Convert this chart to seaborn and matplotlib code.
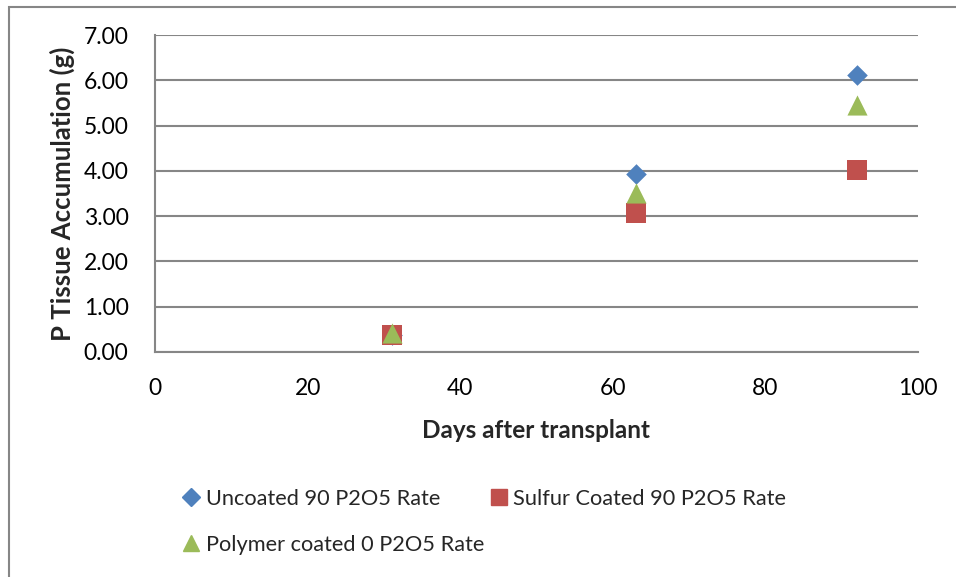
import matplotlib
matplotlib.use("Agg")
import matplotlib.pyplot as plt
from matplotlib.lines import Line2D
from matplotlib.patches import Rectangle
import seaborn as sns
import pandas as pd

# Sampling days and phosphorus tissue accumulation per treatment
days = [31, 63, 92]
uncoated_90 = [0.38, 3.92, 6.12]
sulfur_coated_90 = [0.37, 3.08, 4.02]
polymer_coated_0 = [0.41, 3.52, 5.45]

series_names = ["Uncoated 90 P2O5 Rate", "Sulfur Coated 90 P2O5 Rate",
                "Polymer coated 0 P2O5 Rate"]
series_values = [uncoated_90, sulfur_coated_90, polymer_coated_0]
series_colors = ["#4F81BD", "#C0504D", "#9BBB59"]
series_markers = ["D", "s", "^"]
series_sizes = [110, 200, 210]

y_ticks = [0, 1, 2, 3, 4, 5, 6, 7]
x_ticks = [0, 20, 40, 60, 80, 100]

sns.set_theme(style="white")
plt.rcParams["font.family"] = ["Lato", "DejaVu Sans"]

fig = plt.figure(figsize=(9.56, 5.77), dpi=100)
ax = fig.add_axes([155 / 956, 1 - 352 / 577, (918 - 155) / 956, (352 - 35) / 577])

grid_color = "#868686"

for name, vals, col, mk, sz in zip(series_names, series_values, series_colors,
                                   series_markers, series_sizes):
    df = pd.DataFrame({"day": days, "value": vals})
    sns.scatterplot(data=df, x="day", y="value", ax=ax, color=col, marker=mk,
                    s=sz, linewidth=0, legend=False, zorder=3)

ax.set_xlim(0, 100)
ax.set_ylim(0, 7)
ax.set_xticks(x_ticks)
ax.set_yticks(y_ticks)
ax.set_yticklabels([f"{v:.2f}" for v in y_ticks])
ax.set_xticklabels([str(v) for v in x_ticks])
ax.tick_params(axis="both", length=0, labelsize=16.5, colors="black")
ax.tick_params(axis="y", pad=19)
ax.tick_params(axis="x", pad=19)

ax.yaxis.grid(True, color=grid_color, linewidth=1.5)
ax.xaxis.grid(False)
ax.set_axisbelow(True)
for side in ["top", "right"]:
    ax.spines[side].set_visible(False)
for side in ["left", "bottom"]:
    ax.spines[side].set_color(grid_color)
    ax.spines[side].set_linewidth(1.5)

ax.set_xlabel("Days after transplant", fontsize=17.5, fontweight="bold", labelpad=14)
ax.set_ylabel("P Tissue Accumulation (g)", fontsize=18.5, fontweight="bold", labelpad=6)

# Legend in two rows: Uncoated | Sulfur on the first, Polymer below
handles = [Line2D([], [], linestyle="none", marker=m, color=c, markersize=ms)
           for m, c, ms in zip(series_markers, series_colors, [9, 12, 12])]
order = [0, 2, 1]
fig.legend([handles[i] for i in order], [series_names[i] for i in order],
           ncol=2, loc="upper left", bbox_to_anchor=(163 / 956, 1 - 469 / 577),
           frameon=False, fontsize=15.7, handlelength=0.8, handletextpad=0.25,
           columnspacing=0.3, labelspacing=1.2)

# Chart area border
fig.patches.append(Rectangle((8.5 / 956, -0.1), 1.2, 1 - 6.5 / 577 + 0.1,
                             transform=fig.transFigure, fill=False,
                             edgecolor=grid_color, linewidth=1.5))

fig.savefig("out.png", dpi=100)
